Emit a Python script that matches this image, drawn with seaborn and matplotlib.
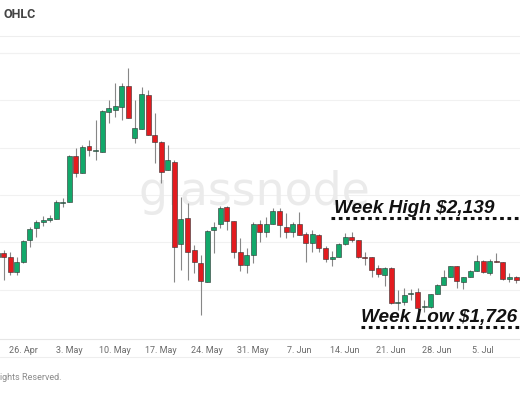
import matplotlib
matplotlib.use("Agg")
import matplotlib.pyplot as plt
import matplotlib.dates as mdates
from matplotlib.lines import Line2D
import numpy as np
import pandas as pd
import seaborn as sns

# ---------------- data (daily OHLC, 22 Apr 2021 - 10 Jul 2021) ----------------
start_date = "2021-04-22"
opens = [2348, 2390, 2348, 2190, 2295, 2528, 2654, 2717, 2738,
         2749, 2918, 2928, 3414, 3234, 3519, 3466, 3456, 3878, 3899, 3931, 4152, 3604, 3699, 4057, 3635,
         3561, 3266, 3350, 2485, 2760, 2422, 2285, 2084, 2633, 2696, 2876, 2728, 2401, 2264, 2369,
         2696, 2612, 2696, 2833, 2665, 2612, 2696, 2591, 2496, 2580, 2443, 2327, 2348, 2485, 2559,
         2528, 2348, 2348, 2232, 2158, 2232, 1863, 1873, 1958, 1979, 1821, 1821, 1958, 2053, 2137,
         2253, 2084, 2137, 2201, 2306, 2179, 2306, 2295, 2116, 2137]
highs = [2422, 2422, 2401, 2348, 2528, 2665, 2738, 2781, 2791,
         2949, 2971, 3424, 3498, 3530, 3582, 3794, 3899, 4004, 4184, 4184, 4342, 4004, 4141, 4110, 3867,
         3575, 3530, 3372, 2981, 2918, 2475, 2369, 2633, 2717, 2886, 2886, 2728, 2549, 2443, 2717,
         2738, 2770, 2865, 2865, 2812, 2717, 2823, 2612, 2633, 2591, 2464, 2412, 2496, 2601, 2612,
         2528, 2401, 2348, 2264, 2243, 2243, 2000, 2021, 2011, 2021, 1895, 1958, 2063, 2211, 2253,
         2253, 2137, 2211, 2369, 2317, 2327, 2390, 2295, 2179, 2148]
lows = [2338, 2106, 2158, 2158, 2285, 2454, 2559, 2675, 2717,
        2749, 2876, 2928, 3192, 3234, 3414, 3372, 3456, 3762, 3825, 3794, 3815, 3551, 3699, 3635, 3340,
        3129, 3266, 2084, 2211, 2106, 2179, 1736, 2084, 2390, 2654, 2633, 2338, 2201, 2179, 2285,
        2506, 2559, 2696, 2559, 2549, 2559, 2580, 2295, 2401, 2401, 2295, 2253, 2348, 2475, 2506,
        2338, 2264, 2137, 2137, 2042, 1852, 1789, 1842, 1895, 1789, 1768, 1810, 1958, 2053, 2137,
        2021, 2011, 2137, 2201, 2179, 2158, 2295, 2106, 2084, 2074]
closes = [2390, 2348, 2190, 2295, 2517, 2644, 2717, 2738, 2760,
          2928, 2928, 3414, 3234, 3509, 3477, 3477, 3888, 3920, 3941, 4152, 3815, 3709, 4068, 3635, 3561,
          3245, 3372, 2454, 2749, 2401, 2295, 2095, 2622, 2665, 2865, 2728, 2401, 2264, 2369, 2696,
          2612, 2696, 2833, 2686, 2612, 2696, 2580, 2496, 2591, 2443, 2327, 2348, 2485, 2559, 2528,
          2348, 2338, 2211, 2169, 2232, 1863, 1873, 1947, 1968, 1810, 1826, 1958, 2053, 2137, 2253,
          2095, 2137, 2201, 2306, 2190, 2306, 2295, 2116, 2137, 2106]
tick_dates = ["2021-04-26", "2021-05-03", "2021-05-10", "2021-05-17", "2021-05-24", "2021-05-31",
              "2021-06-07", "2021-06-14", "2021-06-21", "2021-06-28", "2021-07-05"]
tick_labels = ["26. Apr", "3. May", "10. May", "17. May", "24. May", "31. May",
               "7. Jun", "14. Jun", "21. Jun", "28. Jun", "5. Jul"]
grid_levels = [2000, 2500, 3000, 3500, 4000, 4500]
week_high_label = "Week High $2,139"
week_low_label = "Week Low $1,726"

# ---------------- figure ----------------
sns.set_theme(style="white")
plt.rcParams["font.family"] = ["Roboto", "DejaVu Sans"]

W, H = 520, 400
fig = plt.figure(figsize=(5.2, 4.0), dpi=100)
ax_top, ax_bot = 36, 339
ax = fig.add_axes([0, 1 - ax_bot / H, 1, (ax_bot - ax_top) / H])

def fy(py):
    return (ax_bot - py) / (ax_bot - ax_top)

df = pd.DataFrame({"date": pd.date_range(start_date, periods=len(opens), freq="D"),
                   "open": opens, "high": highs, "low": lows, "close": closes})
x = mdates.date2num(df["date"])
up = df["close"] >= df["open"]
green, red = "#12a86a", "#e31b1f"
colors = np.where(up, green, red)

# grid
for g in grid_levels:
    ax.axhline(g, color="#f1f1f1", lw=0.8, zorder=0)

# watermark (behind the candles)
ax.text(254.5 / W, fy(205), "glassnode", transform=ax.transAxes, fontsize=33,
        color="#ebebeb", family=["DejaVu Sans"], ha="center", va="baseline", zorder=0.5)

# wicks
ax.vlines(x, df["low"], df["high"], color="#878787", lw=0.8, zorder=1)
# bodies
body_bottom = np.minimum(df["open"], df["close"])
body_height = np.maximum(np.abs(df["close"] - df["open"]), 8)
ax.bar(x, body_height, bottom=body_bottom, width=0.76, color=colors,
       edgecolor="#2f2f2f", linewidth=0.4, zorder=2)

x0 = mdates.date2num(pd.Timestamp("2021-04-26"))
px_per_day = 6.57
ax.set_xlim(x0 - 23.3 / px_per_day, x0 + (W - 23.3) / px_per_day)
ax.set_ylim(1480, 4680)

ax.set_yticks([])
ax.set_xticks(mdates.date2num(pd.to_datetime(tick_dates)))
ax.set_xticklabels(tick_labels, fontsize=6.5, color="#6a6a6a")
ax.tick_params(axis="x", length=0, pad=5)
for s in ["left", "right"]:
    ax.spines[s].set_visible(False)
ax.spines["top"].set_color("#eeeeee")
ax.spines["top"].set_linewidth(0.8)
ax.spines["bottom"].set_color("#e6e6e6")
ax.spines["bottom"].set_linewidth(0.8)
ax.set_facecolor("white")

# annotations
ann_font = dict(family=["Liberation Sans", "DejaVu Sans"], fontsize=13.7,
                fontweight="bold", fontstyle="italic", color="#111111")
ax.text(334 / W, fy(213), week_high_label, transform=ax.transAxes,
        ha="left", va="baseline", zorder=5, **ann_font)
ax.text(361 / W, fy(322), week_low_label, transform=ax.transAxes,
        ha="left", va="baseline", zorder=5, **ann_font)
ax.plot([331 / W, 1], [fy(217.5), fy(217.5)], transform=ax.transAxes,
        color="#111111", lw=2.2, linestyle=(0, (1.2, 1.2)), zorder=5, solid_capstyle="butt")
ax.plot([361 / W, 1], [fy(327), fy(327)], transform=ax.transAxes,
        color="#111111", lw=2.2, linestyle=(0, (1.2, 1.2)), zorder=5, solid_capstyle="butt")

# header / footer
fig.text(3 / W, 1 - 14 / H, "OHLC", fontsize=9, fontweight="bold", color="#444444",
         ha="left", va="center")
fig.add_artist(Line2D([0, 1], [1 - 53 / H, 1 - 53 / H], color="#f1f1f1", lw=0.8))
fig.add_artist(Line2D([0, 1], [1 - 357 / H, 1 - 357 / H], color="#eeeeee", lw=0.8))
fig.text(0, 1 - 377 / H, "ights Reserved.", fontsize=6.5, color="#8a8a8a",
         ha="left", va="center")

fig.savefig("out.png", dpi=100, facecolor="white")
